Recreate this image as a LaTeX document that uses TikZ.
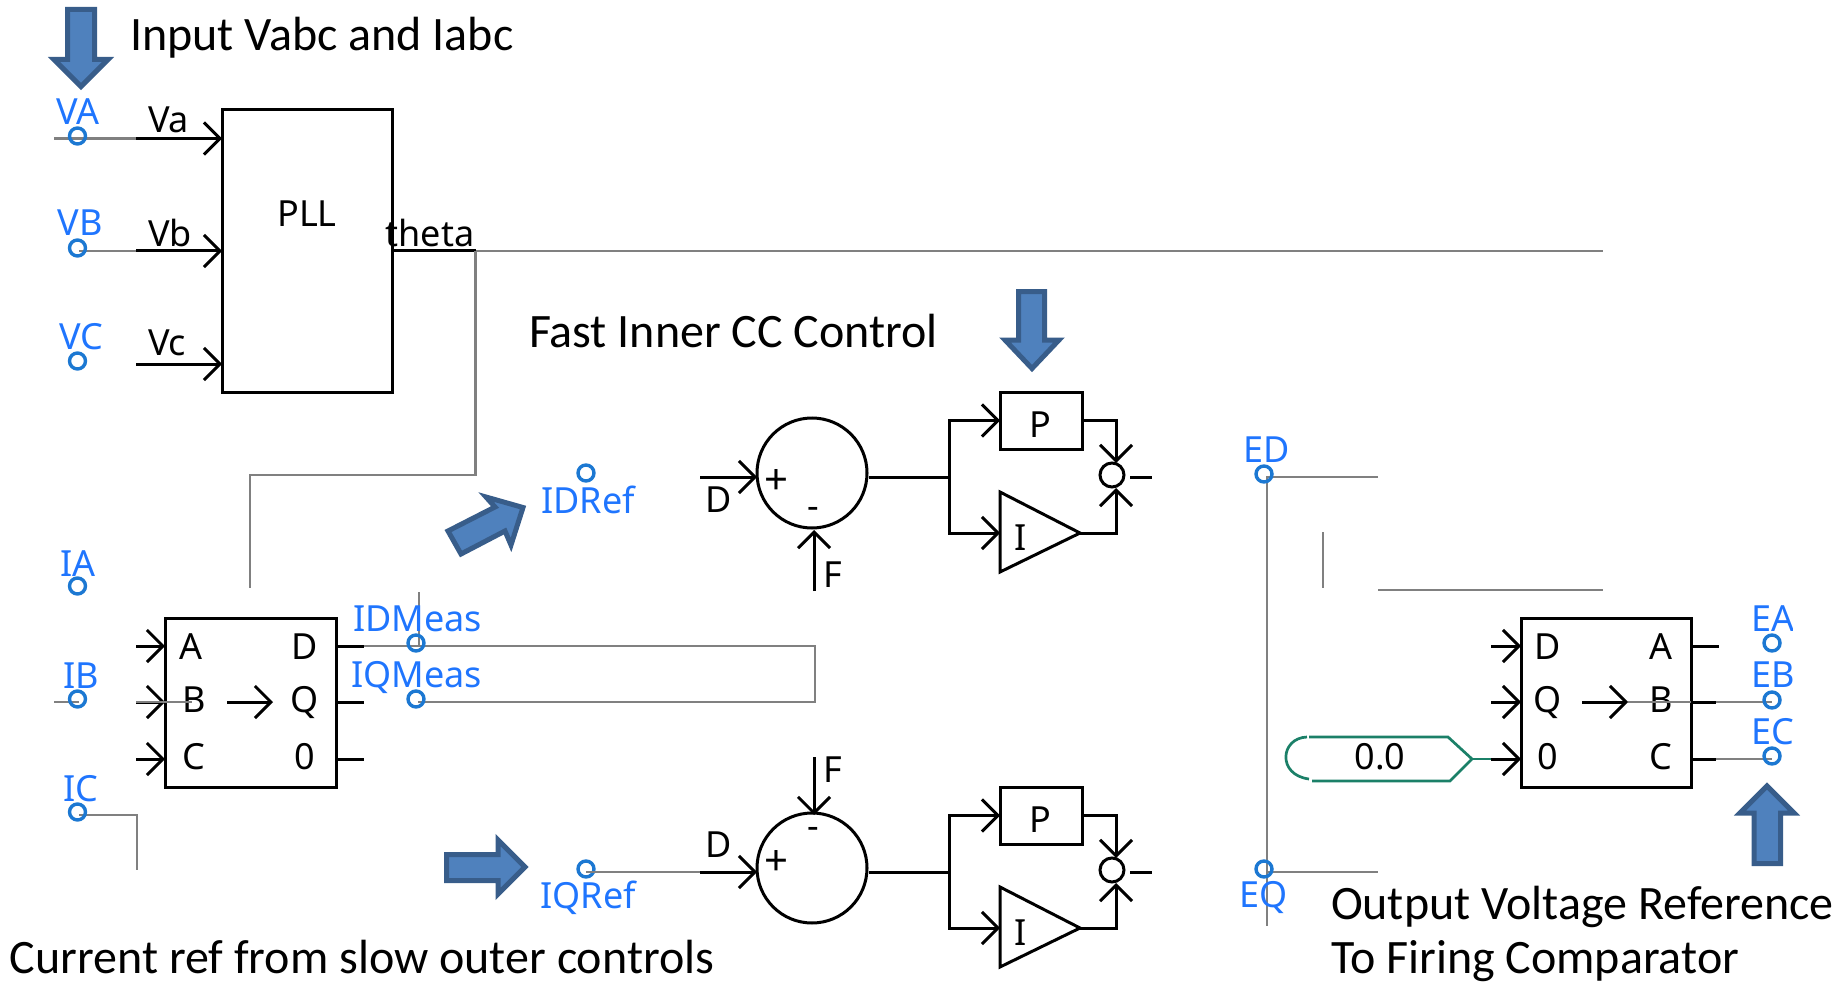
\documentclass[tikz,border=0pt]{standalone}
\usepackage{fontspec}
\setmainfont{Carlito}
\newfontfamily\labfont{Noto Sans}
\usetikzlibrary{arrows.meta}
\definecolor{wireGray}{HTML}{808080}
\definecolor{termBlue}{HTML}{1C78D2}
\definecolor{textBlue}{HTML}{1F75FE}
\definecolor{arrowFill}{HTML}{4F81BD}
\definecolor{arrowEdge}{HTML}{385D8A}
\definecolor{constGreen}{HTML}{1B8068}
\tikzset{
	wire/.style={line width=1.5pt, color=black},
	gwire/.style={line width=1.45pt, color=wireGray},
	ctrlbox/.style={draw, rectangle, line width=1.5pt, inner sep=0pt, outer sep=0pt},
	term/.style={draw=termBlue, circle, line width=1.7pt, inner sep=0pt, outer sep=0pt, minimum size=8pt},
	lab/.style={anchor=base, inner sep=0pt, outer sep=0pt, font={\fontsize{18}{20}\selectfont\labfont}},
	blab/.style={lab, color=textBlue},
	note/.style={anchor=base west, inner sep=0pt, outer sep=0pt, font={\fontsize{24}{28}\selectfont}},
	bigarrow/.style={draw=arrowEdge, fill=arrowFill, line width=2.5pt, miter limit=10},
	>={Straight Barb[length=8pt,width=16pt]},
}

\begin{document}
\begin{tikzpicture}[x=0.5pt, y=-0.5pt]
\useasboundingbox (0,0) rectangle (1841,984);

% titles
\node[note] (tInput) at (130,51) {Input Vabc and Iabc};
\node[note] (tFast) at (529,347) {Fast Inner CC Control};
\node[note] (tCur) at (10,973) {Current ref from slow outer controls};
\node[note] (tOut) at (1331,919) {Output Voltage Reference};
\node[note] (tFire) at (1331,973) {To Firing Comparator};

% big arrows
\draw[bigarrow] (67.5,9.5) -- (94.5,9.5) -- (94.5,59.5) -- (108,59.5) -- (81,86.5) -- (54,59.5) -- (67.5,59.5) -- cycle;
\draw[bigarrow] (1018.5,291.5) -- (1044.5,291.5) -- (1044.5,340) -- (1059,340) -- (1032,368.5) -- (1005,340) -- (1018.5,340) -- cycle;
\draw[bigarrow] (448,531) -- (495,507) -- (486,497) -- (523,507.5) -- (511,545) -- (505,531) -- (461,554) -- cycle;
\draw[bigarrow] (446.5,854.5) -- (498,854.5) -- (498,840) -- (525,867) -- (498,894) -- (498,880.5) -- (446.5,880.5) -- cycle;
\draw[bigarrow] (1754,863.5) -- (1754,813) -- (1740,813) -- (1767,786) -- (1794,813) -- (1780.5,813) -- (1780.5,863.5) -- cycle;

% PLL
\node[ctrlbox, minimum width=85pt, minimum height=141pt] (pll) at (307,251) {};
\node[lab] (pllTxt) at (307,227) {PLL};
\node[lab] (thetaTxt) at (430,247) {theta};
\foreach \n/\y/\b in {a/138.5/133, b/251/247, c/364/355} {
	\coordinate (vin\n) at (136,\y);
	\draw[wire,->] (vin\n) -- (pll.west |- vin\n);
	\node[lab, anchor=base west] (vTxt\n) at (148,\b) {V\n};
}
\coordinate (vaEnd) at (54,138.5);
\coordinate (vbEnd) at (79,251);
\draw[gwire] (vaEnd) -- (vina);
\draw[gwire] (vbEnd) -- (vinb);
\node[term] (VA) at (77.5,136) {};
\node[term] (VB) at (77.5,248) {};
\node[term] (VC) at (77.5,361) {};
\node[blab] (VAtxt) at (78,125) {VA};
\node[blab] (VBtxt) at (80,236) {VB};
\node[blab] (VCtxt) at (81,349) {VC};

% theta wiring
\coordinate (thetaOut) at (475.5,251);
\coordinate (thetaEnd) at (1603,251);
\coordinate (abcTop) at (250,588);
\draw[wire] (pll.east |- thetaOut) -- (thetaOut);
\draw[gwire] (thetaOut) -- (thetaEnd);
\draw[gwire] (thetaOut) -- (475.5,475) -| (abcTop);

% abc to dq
\node[ctrlbox, minimum width=85.5pt, minimum height=84.5pt] (abc) at (250.5,702.5) {};
\foreach \n/\y/\b/\xa/\o in {A/646/659/191/D, B/702/712/194/Q, C/759/769/194/0} {
	\coordinate (abcIn\n) at (136,\y);
	\coordinate (abcOut\n) at (364,\y);
	\draw[wire,->] (abcIn\n) -- (abc.west |- abcIn\n);
	\draw[wire] (abc.east |- abcOut\n) -- (abcOut\n);
	\node[lab] (abcTxt\n) at (\xa,\b) {\n};
	\node[lab] (abcTxtO\n) at (305,\b) {\o};
}
\coordinate (abcArrA) at (227,702);
\coordinate (abcArrB) at (273,702);
\draw[wire,->] (abcArrA) -- (abcArrB);
\coordinate (ibEnd) at (54,702);
\coordinate (ibStub) at (79,702);
\coordinate (ibIn) at (192,702);
\draw[gwire] (ibEnd) -- (ibStub);
\draw[gwire] (abcInB) -- (ibIn);
\coordinate (icStub) at (79,815);
\coordinate (icEnd) at (137,870);
\draw[gwire] (icStub) -| (icEnd);
\node[term] (IA) at (77.5,586) {};
\node[term] (IB) at (77.5,699) {};
\node[term] (IC) at (77.5,812) {};
\node[blab] (IAtxt) at (78,576) {IA};
\node[blab] (IBtxt) at (81,688) {IB};
\node[blab] (ICtxt) at (81,801) {IC};

% measured currents
\coordinate (measTop) at (419,592);
\coordinate (measD) at (419,646);
\coordinate (measQ) at (418,702);
\coordinate (measC) at (815,646);
\draw[gwire] (abcOutA) -- (measC) -- (815,702) -- (measQ);
\draw[gwire] (measTop) -- (measD);
\node[term] (IDM) at (416,643) {};
\node[term] (IQM) at (416,699) {};
\node[blab, anchor=base east] (IDMtxt) at (482,631) {IDMeas};
\node[blab, anchor=base east] (IQMtxt) at (482,687) {IQMeas};
\node[term] (IDR) at (586,473) {};
\node[term] (IQR) at (586,869) {};
\node[blab] (IDRtxt) at (588,513) {IDRef};
\node[blab] (IQRtxt) at (588,908) {IQRef};

% inner controllers
\foreach \n/\y in {D/0, Q/395} {
	\node[ctrlbox, circle, minimum size=55pt] (sum\n) at (812,473+\y) {};
	\coordinate (sumIn\n) at (700,477+\y);
	\coordinate (sumOut\n) at (869,477+\y);
	\coordinate (br\n) at (949,477+\y);
	\draw[wire,->] (sumIn\n) -- (757,477+\y);
	\draw[wire] (sumOut\n) -- (br\n);
	\node[ctrlbox, minimum width=41pt, minimum height=28.5pt] (p\n) at (1041,420.5+\y) {};
	\node[lab] (pTxt\n) at (1040,437+\y) {P};
	\coordinate (iIn\n) at (1000,533+\y);
	\coordinate (iOut\n) at (1080,533+\y);
	\draw[wire] (1000,492+\y) -- (1000,572+\y) -- (iOut\n) -- cycle;
	\node[lab] (iTxt\n) at (1021,550+\y) {I};
	\draw[wire,->] (br\n) |- (p\n.west);
	\draw[wire,->] (br\n) |- (iIn\n);
	\node[ctrlbox, circle, minimum size=12pt] (add\n) at (1112,475+\y) {};
	\coordinate (addTop\n) at (1116,463+\y);
	\coordinate (addBot\n) at (1116,488+\y);
	\draw[wire,->] (p\n.east) -| (addTop\n);
	\draw[wire,->] (iOut\n) -| (addBot\n);
	\coordinate (addOut\n) at (1130,477+\y);
	\coordinate (addEnd\n) at (1152,477+\y);
	\draw[wire] (addOut\n) -- (addEnd\n);
}
\coordinate (fD) at (814,591);
\coordinate (fQ) at (814,757);
\draw[wire,->] (fD) -- (814,530);
\draw[wire,->] (fQ) -- (814,815);
\coordinate (iqStart) at (586,872);
\draw[gwire] (iqStart) -- (sumInQ);
\node[lab] (dTxtD) at (719,512) {D};
\node[lab] (dTxtQ) at (719,857) {D};
\node[lab] (fTxtD) at (833,587) {F};
\node[lab] (fTxtQ) at (833,782) {F};
\node[lab, anchor=center, font={\fontsize{21}{24}\selectfont\labfont}] (plusD) at (777,482) {+};
\node[lab, anchor=center, font={\fontsize{21}{24}\selectfont\labfont}] (plusQ) at (777,863) {+};
\node[lab, anchor=center] (minusD) at (813,513) {-};
\node[lab, anchor=center] (minusQ) at (813,833) {-};

% voltage refs
\coordinate (edEnd) at (1378,477);
\coordinate (eqEnd) at (1378,872);
\coordinate (edLeft) at (1267,477);
\coordinate (eqLeft) at (1267,872);
\coordinate (railEnd) at (1267,926);
\draw[gwire] (edEnd) -- (edLeft) -- (railEnd);
\draw[gwire] (eqLeft) -- (eqEnd);
\coordinate (shortA) at (1323,532);
\coordinate (shortB) at (1323,588);
\draw[gwire] (shortA) -- (shortB);
\coordinate (topA) at (1378,590);
\coordinate (topB) at (1603,590);
\draw[gwire] (topA) -- (topB);
\node[term] (ED) at (1264,474) {};
\node[term] (EQ) at (1264,869) {};
\node[blab] (EDtxt) at (1267,462) {ED};
\node[blab] (EQtxt) at (1264,907) {EQ};

% dq to abc
\node[ctrlbox, minimum width=85pt, minimum height=84.5pt] (dq) at (1606,702.5) {};
\foreach \n/\y/\b/\o in {D/646/659/A, Q/702/712/B, 0/759/769/C} {
	\coordinate (dqIn\n) at (1491,\y);
	\draw[wire,->] (dqIn\n) -- (dq.west |- dqIn\n);
	\node[lab] (dqTxt\n) at (1547.5,\b) {\n};
	\node[lab] (dqTxtO\n) at (1661,\b) {\o};
}
\coordinate (dqOutA) at (1719,646);
\coordinate (dqOutB) at (1716,702);
\coordinate (dqOutC) at (1716,759);
\draw[wire] (dq.east |- dqOutA) -- (dqOutA);
\draw[wire] (dq.east |- dqOutB) -- (dqOutB);
\draw[wire] (dq.east |- dqOutC) -- (dqOutC);
\coordinate (dqArrA) at (1582,702);
\coordinate (dqArrB) at (1628,702);
\draw[wire,->] (dqArrA) -- (dqArrB);
\coordinate (ebEnd) at (1772,702);
\coordinate (ecEnd) at (1772,759);
\draw[gwire] (dqArrB) -- (dq.east |- dqArrB);
\draw[gwire] (dqOutB) -- (ebEnd);
\draw[gwire] (dqOutC) -- (ecEnd);
\node[term] (EA) at (1772,643) {};
\node[term] (EB) at (1772,700) {};
\node[term] (EC) at (1772,756) {};
\begin{scope}
\clip (1740,590) rectangle (1792,760);
\node[blab] (EAtxt) at (1773,631) {EA};
\node[blab] (EBtxt) at (1773,687) {EB};
\node[blab] (ECtxt) at (1773,744) {EC};
\end{scope}

% constant
\coordinate (constTip) at (1472,759);
\draw[line width=1.35pt, color=constGreen] (1309,737) -- (1448,737) -- (constTip) -- (1450,781) -- (1312,781);
\draw[line width=1.35pt, color=constGreen] (1307,737) .. controls (1280,738) and (1277,775) .. (1309,779);
\draw[line width=1.35pt, color=constGreen] (constTip) -- (dqIn0);
\node[lab] (constTxt) at (1380,769) {0.0};

\end{tikzpicture}
\end{document}
